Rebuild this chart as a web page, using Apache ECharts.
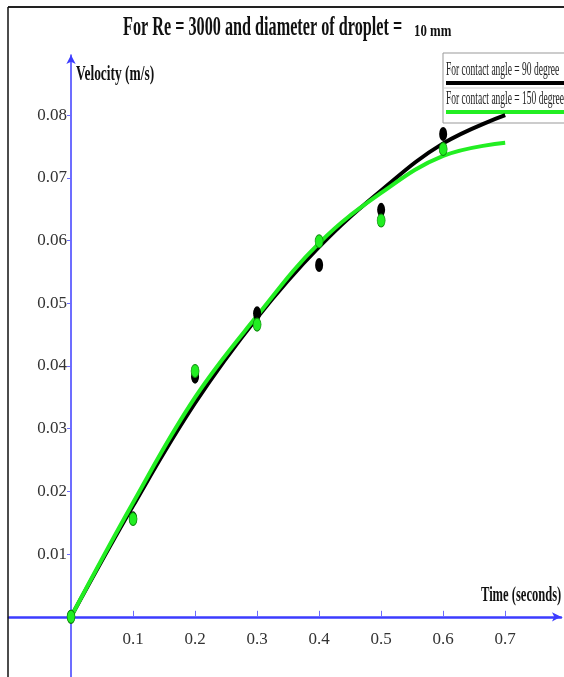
<!DOCTYPE html>
<html>
<head>
<meta charset="utf-8">
<script src="https://cdn.jsdelivr.net/npm/echarts@6/dist/echarts.min.js"></script>
<style>
  html, body { margin: 0; padding: 0; background: #fff; }
  #chart { width: 564px; height: 677px; }
</style>
</head>
<body>
<div id="chart"></div>
<script>
// fitted curves
const timeFit = [0, 0.1, 0.2, 0.3, 0.4, 0.5, 0.6, 0.7]
const fit90 = [0, 0.0177, 0.0341, 0.0477, 0.0590, 0.0680, 0.0755, 0.0800]
const fit150 = [0, 0.0182, 0.0350, 0.0480, 0.0596, 0.0676, 0.0735, 0.0756]
// measured points
const timePts = [0, 0.1, 0.2, 0.3, 0.4, 0.5, 0.6]
const pts90 = [0, 0.0157, 0.0383, 0.0484, 0.0561, 0.0649, 0.0770]
const pts150 = [0, 0.0156, 0.0392, 0.0466, 0.0599, 0.0632, 0.0746]
// tick labels
const xTicks = [0.1, 0.2, 0.3, 0.4, 0.5, 0.6, 0.7]
const yTicks = [0.01, 0.02, 0.03, 0.04, 0.05, 0.06, 0.07, 0.08]
const names = ['For contact angle = 90 degree', 'For contact angle = 150 degree']

const pair = (xs, ys) => xs.map((x, i) => [x, ys[i]])

const serif = '"Liberation Serif", "Times New Roman", serif'
const axisBlue = '#3c3cff'
const green = '#22ee22'

const chart = echarts.init(document.getElementById('chart'))

const option = {
  backgroundColor: '#fff',
  animation: false,
  grid: {
    left: 9,
    right: 3,
    top: 55,
    bottom: 0,
    outerBoundsMode: 'none'
  },
  xAxis: {
    type: 'value',
    min: -0.1,
    max: 0.79,
    splitLine: { show: false },
    axisLine: {
      onZero: true,
      symbol: ['none', 'arrow'],
      symbolSize: [7, 9],
      lineStyle: { color: axisBlue, width: 2.5 }
    },
    axisTick: {
      customValues: xTicks,
      inside: true,
      length: 6,
      lineStyle: { color: '#6b6bff', width: 1 }
    },
    axisLabel: {
      customValues: xTicks,
      margin: -46, // labels sit at the grid edge, pull them up under the x axis line
      fontFamily: serif,
      fontSize: 17,
      color: '#333'
    }
  },
  yAxis: {
    type: 'value',
    min: -0.0096,
    max: 0.0896,
    splitLine: { show: false },
    axisLine: {
      onZero: true,
      symbol: ['none', 'arrow'],
      symbolSize: [7, 9],
      lineStyle: { color: axisBlue, width: 1.5 }
    },
    axisTick: {
      customValues: yTicks,
      length: 4,
      lineStyle: { color: '#6b6bff', width: 1 }
    },
    axisLabel: {
      customValues: yTicks,
      margin: -58, // same for the y labels, next to the y axis line
      fontFamily: serif,
      fontSize: 17,
      color: '#333'
    }
  },
  series: [
    {
      name: names[0],
      type: 'line',
      smooth: 0.4,
      showSymbol: false,
      data: pair(timeFit, fit90),
      lineStyle: { color: '#000', width: 4 },
      z: 2
    },
    {
      name: names[1],
      type: 'line',
      smooth: 0.4,
      showSymbol: false,
      data: pair(timeFit, fit150),
      lineStyle: { color: green, width: 4 },
      z: 3
    },
    {
      name: names[0],
      type: 'scatter',
      symbol: 'circle',
      symbolSize: [8, 14],
      data: pair(timePts, pts90),
      itemStyle: { color: '#000', opacity: 1 },
      z: 4
    },
    {
      name: names[1],
      type: 'scatter',
      symbol: 'circle',
      symbolSize: [8, 13],
      data: pair(timePts, pts150),
      itemStyle: { color: green, borderColor: '#0b8a0b', borderWidth: 0.8, opacity: 1 },
      z: 5
    }
  ],
  graphic: [
    // frame
    { type: 'line', shape: { x1: 8, y1: 7, x2: 564, y2: 7 }, style: { stroke: '#222', lineWidth: 2 }, z: 50 },
    { type: 'line', shape: { x1: 8, y1: 7, x2: 8, y2: 677 }, style: { stroke: '#111', lineWidth: 1.5 }, z: 50 },
    // title
    {
      type: 'text',
      x: 123,
      y: 28,
      scaleX: 0.6,
      style: { text: 'For Re = 3000 and diameter of droplet = ', font: 'bold 27px ' + serif, fill: '#111', verticalAlign: 'middle' },
      z: 50
    },
    {
      type: 'text',
      x: 414,
      y: 31.6,
      scaleX: 0.8,
      style: { text: '10 mm', font: 'bold 16px ' + serif, fill: '#111', verticalAlign: 'middle' },
      z: 50
    },
    // axis names
    {
      type: 'text',
      x: 76,
      y: 74,
      scaleX: 0.61,
      style: { text: 'Velocity (m/s)', font: 'bold 22px ' + serif, fill: '#111', verticalAlign: 'middle' },
      z: 50
    },
    {
      type: 'text',
      x: 481,
      y: 595,
      scaleX: 0.57,
      style: { text: 'Time (seconds)', font: 'bold 22px ' + serif, fill: '#111', verticalAlign: 'middle' },
      z: 50
    },
    // legend box
    {
      type: 'group',
      z: 100,
      children: [
        { type: 'rect', shape: { x: 443, y: 53, width: 130, height: 70 }, style: { fill: '#fff', stroke: '#999', lineWidth: 1 } },
        { type: 'text', x: 446, y: 69.6, scaleX: 0.5, style: { text: names[0], font: '19px ' + serif, fill: '#222', verticalAlign: 'middle' } },
        { type: 'line', shape: { x1: 446, y1: 83, x2: 564, y2: 83 }, style: { stroke: '#000', lineWidth: 4 } },
        { type: 'line', shape: { x1: 443, y1: 88, x2: 564, y2: 88 }, style: { stroke: '#ccc', lineWidth: 1 } },
        { type: 'text', x: 446, y: 98.6, scaleX: 0.5, style: { text: names[1], font: '19px ' + serif, fill: '#222', verticalAlign: 'middle' } },
        { type: 'line', shape: { x1: 446, y1: 112, x2: 564, y2: 112 }, style: { stroke: green, lineWidth: 4 } }
      ]
    }
  ]
}

chart.setOption(option)
window.addEventListener('resize', function () {
  chart.resize()
})
</script>
</body>
</html>
